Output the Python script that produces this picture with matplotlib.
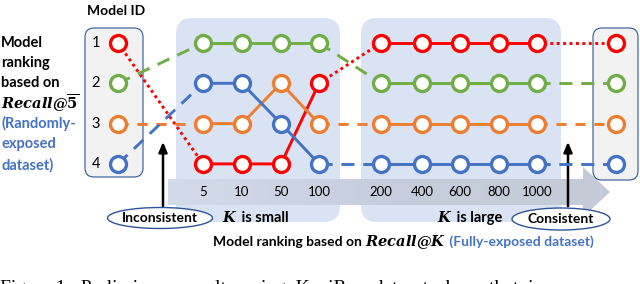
import matplotlib
matplotlib.use("Agg")
import matplotlib.pyplot as plt
import numpy as np
from matplotlib.colors import LinearSegmentedColormap
from matplotlib.patches import FancyBboxPatch, Polygon, Ellipse

plt.rcParams["font.family"] = ["Lato", "DejaVu Sans"]
plt.rcParams["mathtext.fontset"] = "dejavuserif"

# data
k_labels = ["5", "10", "50", "100", "200", "400", "600", "800", "1000"]
model_ids = [1, 2, 3, 4]
# rank by Recall@5bar on the randomly-exposed data (left and right columns)
random_rank = [1, 2, 3, 4]
# rank by Recall@K on the fully-exposed data, one list per model
red_ranks = [4, 4, 4, 2, 1, 1, 1, 1, 1]
green_ranks = [1, 1, 1, 1, 2, 2, 2, 2, 2]
orange_ranks = [3, 3, 2, 3, 3, 3, 3, 3, 3]
blue_ranks = [2, 2, 3, 4, 4, 4, 4, 4, 4]

# layout / styles
colors = ["#FF0000", "#70AD47", "#ED7D31", "#4472C4"]
gap_styles = [(0, (1.0, 1.2)), (0, (4.5, 3.0)), (0, (3.5, 3.0)), (0, (4.5, 3.0))]
left_x = 118
right_x = 616
k_x = [203, 242, 281, 319, 381, 422, 460, 499, 537]
small_k = slice(0, 4)
large_k = slice(4, 9)
blue_txt = "#4472C4"
edge_blue = "#2F5597"
shade = "#DAE3F3"

fig = plt.figure(figsize=(6.4, 2.84), dpi=100)
bg = fig.add_axes([0, 0, 1, 1])
bg.set_xlim(0, 640)
bg.set_ylim(284, 0)
bg.axis("off")

ax = fig.add_axes([0, 0, 1, 1], facecolor="none")
ax.set_xlim(0, 640)
ax.set_ylim(6.98, -0.067)
ax.axis("off")


def rbox(x0, y0, w, h, r, **kw):
    p = FancyBboxPatch((x0, y0), w, h, boxstyle="round,pad=0,rounding_size=%g" % r, **kw)
    bg.add_patch(p)
    return p


# shaded K regions
rbox(176, 18, 164, 204, 16, fc=shade, ec="none", zorder=1)
rbox(361, 18, 200, 204, 16, fc=shade, ec="none", zorder=1)

# arrow band with a soft left-to-right gradient
band = Polygon([(168, 179), (583, 179), (583, 167), (610, 192), (583, 217),
                (583, 205), (168, 205)], closed=True, fc="none", ec="none", zorder=2)
bg.add_patch(band)
grad_cmap = LinearSegmentedColormap.from_list("band", ["#D3DBEA", "#C6CEDD", "#C4CAD6"])
grad = bg.imshow(np.linspace(0, 1, 256)[None, :], cmap=grad_cmap, aspect="auto",
                 extent=(168, 610, 217, 167), zorder=2, interpolation="bilinear")
grad.set_clip_path(band)
bg.set_xlim(0, 640)
bg.set_ylim(284, 0)
for x, lab in zip(k_x, k_labels):
    bg.text(x, 192, lab, ha="center", va="center", fontsize=9.5, zorder=3)

# left / right columns
rbox(85, 28, 58, 149, 9, fc="#F2F2F2", ec=edge_blue, lw=0.8, zorder=2)
rbox(593, 28, 45, 152, 9, fc="#F2F2F2", ec=edge_blue, lw=0.8, zorder=2)

bg.text(116, 11, "Model ID", ha="center", va="center", fontsize=10, fontweight="bold")
for mid, r in zip(model_ids, random_rank):
    ax.text(96, r, str(mid), ha="center", va="center", fontsize=10.5)

# ranking lines
all_ranks = [red_ranks, green_ranks, orange_ranks, blue_ranks]
mk = dict(marker="o", ms=11.5, mew=2.4, mfc="white", lw=2.1)
for i, ranks in enumerate(all_ranks):
    c = colors[i]
    ls = gap_styles[i]
    # gaps between groups
    ax.plot([left_x, k_x[0]], [random_rank[i], ranks[0]], color=c, lw=2.1, ls=ls, zorder=3)
    ax.plot([k_x[3], k_x[4]], [ranks[3], ranks[4]], color=c, lw=2.1, ls=ls, zorder=3)
    ax.plot([k_x[-1], right_x], [ranks[-1], random_rank[i]], color=c, lw=2.1, ls=ls, zorder=3)
    # solid groups
    ax.plot(k_x[small_k], ranks[small_k], color=c, mec=c, zorder=4, **mk)
    ax.plot(k_x[large_k], ranks[large_k], color=c, mec=c, zorder=4, **mk)
    ax.plot([left_x], [random_rank[i]], color=c, mec=c, zorder=4, **mk)
    ax.plot([right_x], [random_rank[i]], color=c, mec=c, zorder=4, **mk)

# left description
for j, s in enumerate(["Model", "ranking", "based on"]):
    bg.text(1, 43 + 20 * j, s, ha="left", va="center", fontsize=10.5, fontweight="bold")
bg.text(1, 103, r"$\mathbfit{Recall@}\overline{\mathbf{5}}$", ha="left", va="center", fontsize=10.5)
for j, s in enumerate(["(Randomly-", "exposed", "dataset)"]):
    bg.text(1, 123 + 21 * j, s, ha="left", va="center", fontsize=10.5, fontweight="bold", color=blue_txt)

# vertical arrows
bg.annotate("", xy=(163, 139), xytext=(163, 209),
            arrowprops=dict(arrowstyle="-|>,head_width=0.25,head_length=0.6", color="k", lw=1.8), zorder=5)
bg.annotate("", xy=(568, 139), xytext=(568, 209),
            arrowprops=dict(arrowstyle="-|>,head_width=0.25,head_length=0.6", color="k", lw=1.8), zorder=5)

# ellipses
bg.add_patch(Ellipse((160, 218), 105, 21, fc="white", ec=edge_blue, lw=1.0, zorder=6))
bg.text(160, 218, "Inconsistent", ha="center", va="center", fontsize=10, fontweight="bold", zorder=7)
bg.add_patch(Ellipse((561, 219), 98, 22, fc="white", ec=edge_blue, lw=1.0, zorder=6))
bg.text(561, 219, "Consistent", ha="center", va="center", fontsize=10, fontweight="bold", zorder=7)

fig.canvas.draw()
rend = fig.canvas.get_renderer()


def chain(x, y, parts, size):
    for s, kw in parts:
        props = dict(fontsize=size)
        props.update(kw)
        t = bg.text(x, y, s, ha="left", va="center", zorder=7, **props)
        bb = t.get_window_extent(rend)
        x += bb.width


chain(222, 218, [(r"$\mathbfit{K}$", {}), (" is small", dict(fontweight="bold"))], 10.5)
chain(437, 218, [(r"$\mathbfit{K}$", {}), (" is large", dict(fontweight="bold"))], 10.5)
chain(213, 242, [("Model ranking based on ", dict(fontweight="bold")),
                 (r"$\mathbfit{Recall@K}$", dict(fontsize=10.5)),
                 (" (Fully-exposed dataset)", dict(fontweight="bold", color=blue_txt))], 10)

# cut-off caption
bg.text(0, 280, "Figure 1:  Preliminary  results  using  KuaiRec  dataset  show  that  i",
        ha="left", va="top", fontsize=14, family="Liberation Serif")

fig.savefig("out.png", dpi=100)
